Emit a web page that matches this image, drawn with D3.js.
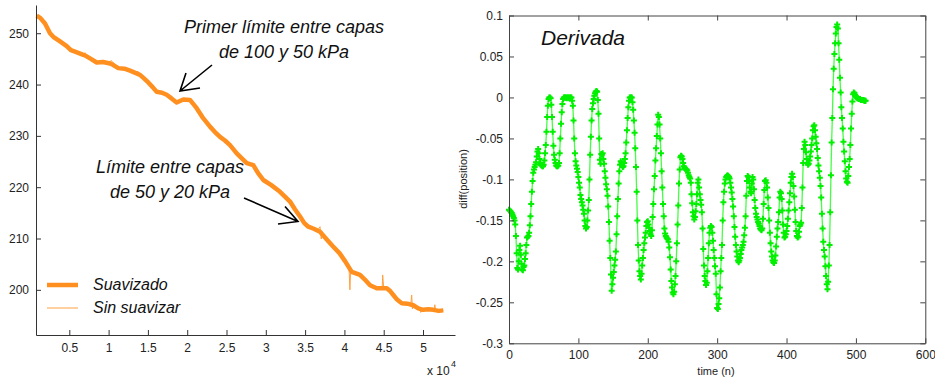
<!DOCTYPE html>
<html>
<head>
<meta charset="utf-8">
<script src="https://cdn.jsdelivr.net/npm/d3@7"></script>
<style>
    body { margin: 0; background: #fff; }
    svg { font-family: "Liberation Sans", Arial, sans-serif; }
</style>
</head>
<body>
<svg id="chart" width="935" height="378"></svg>
<script>
// ---- left plot data (position vs sample) ----
var smoothX = [852, 1300, 1908, 2545, 2965, 3817, 4669, 5200, 5725, 6781, 7200, 7634, 8486, 9300, 10178, 10600, 11234, 12000,
    12723, 13995, 14500, 15047, 15600, 16116, 16800, 17388, 18000, 18660, 19500, 20352, 21204, 22052, 22900, 23500, 24170,
    24800, 25446, 26300, 27572, 28410, 29000, 29683, 30700, 31808, 32400, 33080, 33700, 34352, 34900, 35408, 36100, 36896,
    37700, 38588, 39400, 40080, 40932, 41988, 42600, 43260, 44112, 45384, 45800, 46220, 46700, 47288, 48000, 48765, 49400,
    50037, 50700, 51310, 52000, 52582];
var smoothY = [253.4, 253.0, 251.9, 250.0, 249.3, 248.4, 247.5, 246.7, 246.4, 245.8, 245.5, 245.1, 244.3, 244.4, 244.1, 243.8, 243.2, 243.1,
    242.7, 241.9, 241.2, 240.4, 239.5, 238.6, 238.4, 238.0, 237.3, 236.5, 237.1, 237.0, 235.4, 233.4, 231.8, 230.8, 229.8,
    229.1, 228.2, 226.6, 224.7, 224.3, 222.8, 221.4, 220.4, 219.1, 218.2, 217.2, 215.7, 214.3, 213.0, 212.3, 211.9, 211.3,
    209.9, 208.4, 207.1, 205.6, 203.5, 202.9, 202.0, 200.9, 200.3, 200.3, 199.8, 199.0, 198.1, 197.4, 197.3, 197.0, 196.4,
    196.1, 196.2, 196.1, 195.9, 196.0];

var rawX = [852, 1500, 1908, 2545, 3000, 3817, 4669, 5200, 5725, 6781, 7000, 7200, 7634, 8486, 9300, 10178, 10300, 11234,
    12723, 13500, 13700, 13995, 15047, 16116, 17388, 18660, 19500, 20352, 21204, 22052, 22900, 24170, 25446, 26300, 27572,
    28410, 29683, 31808, 33080, 34352, 35408, 36600, 36896, 37050, 37200, 38588, 40080, 40600, 40700, 40800, 40932, 41988,
    43260, 44112, 44800, 44870, 45000, 45384, 46220, 47288, 48450, 48560, 48650, 48765, 49600, 49700, 50037, 51310, 51450,
    51500, 51600, 52582];
var rawY = [253.6, 252.8, 251.9, 250.1, 249.2, 248.5, 247.4, 246.9, 246.3, 245.7, 246.2, 245.4, 245.0, 244.4, 244.2, 244.1, 244.7, 243.3,
    242.6, 242.0, 242.6, 241.9, 240.5, 238.7, 237.9, 236.6, 237.2, 236.9, 235.5, 233.3, 231.9, 229.7, 228.3, 226.5, 224.8,
    224.2, 221.5, 219.0, 217.3, 214.2, 212.4, 211.6, 212.3, 209.9, 211.2, 208.5, 205.6, 203.9, 200.0, 204.3, 203.4, 203.0,
    200.8, 200.4, 200.2, 202.9, 200.4, 200.2, 199.1, 197.3, 197.2, 199.0, 196.3, 197.1, 196.2, 195.6, 196.2, 196.1, 196.2,
    197.1, 196.0, 196.0];

var leftXTicks = [5000, 10000, 15000, 20000, 25000, 30000, 35000, 40000, 45000, 50000];
var leftXLabels = ["0.5", "1", "1.5", "2", "2.5", "3", "3.5", "4", "4.5", "5"];
var leftYTicks = [200, 210, 220, 230, 240, 250];

// ---- right plot data (derivative, one value per sample n = 0..514) ----
var derivValues = [
    -0.137, -0.138, -0.139, -0.140, -0.141, -0.143, -0.145, -0.147, -0.150, -0.155,
    -0.169, -0.190, -0.208, -0.210, -0.200, -0.186, -0.181, -0.192, -0.203, -0.210,
    -0.211, -0.207, -0.205, -0.197, -0.190, -0.180, -0.171, -0.170, -0.169, -0.165,
    -0.156, -0.145, -0.130, -0.115, -0.102, -0.092, -0.088, -0.085, -0.082, -0.079,
    -0.072, -0.066, -0.063, -0.068, -0.075, -0.080, -0.082, -0.083, -0.084, -0.084,
    -0.082, -0.077, -0.068, -0.058, -0.042, -0.024, -0.010, -0.002, 0.000, 0.000,
    -0.001, -0.009, -0.024, -0.042, -0.059, -0.070, -0.076, -0.080, -0.083, -0.084,
    -0.084, -0.083, -0.080, -0.068, -0.050, -0.032, -0.018, -0.008, -0.002, 0.000,
    0.000, 0.000, 0.000, -0.001, 0.000, 0.000, 0.000, -0.001, 0.000, 0.000,
    0.000, -0.004, -0.010, -0.028, -0.050, -0.068, -0.078, -0.083, -0.087, -0.091,
    -0.097, -0.104, -0.110, -0.119, -0.124, -0.128, -0.132, -0.137, -0.142, -0.150,
    -0.157, -0.160, -0.158, -0.150, -0.138, -0.125, -0.100, -0.070, -0.048, -0.028,
    -0.014, -0.007, -0.002, 0.002, 0.005, 0.007, 0.008, 0.007, -0.003, -0.020,
    -0.050, -0.076, -0.081, -0.069, -0.070, -0.068, -0.075, -0.081, -0.090, -0.098,
    -0.106, -0.112, -0.120, -0.133, -0.152, -0.175, -0.196, -0.216, -0.236, -0.228,
    -0.220, -0.213, -0.205, -0.198, -0.188, -0.167, -0.145, -0.124, -0.105, -0.090,
    -0.082, -0.078, -0.080, -0.083, -0.085, -0.084, -0.080, -0.075, -0.068, -0.055,
    -0.040, -0.025, -0.012, -0.004, 0.000, 0.000, 0.000, 0.000, -0.006, -0.015,
    -0.028, -0.043, -0.062, -0.085, -0.115, -0.150, -0.180, -0.199, -0.212, -0.218,
    -0.222, -0.215, -0.205, -0.196, -0.186, -0.178, -0.171, -0.165, -0.157, -0.152,
    -0.151, -0.155, -0.159, -0.163, -0.167, -0.169, -0.162, -0.146, -0.130, -0.112,
    -0.096, -0.077, -0.062, -0.047, -0.033, -0.021, -0.024, -0.033, -0.050, -0.068,
    -0.090, -0.110, -0.130, -0.145, -0.160, -0.166, -0.169, -0.171, -0.172, -0.173,
    -0.176, -0.183, -0.195, -0.210, -0.224, -0.232, -0.238, -0.240, -0.237, -0.228,
    -0.218, -0.200, -0.178, -0.155, -0.132, -0.105, -0.088, -0.073, -0.071, -0.072,
    -0.075, -0.080, -0.084, -0.086, -0.087, -0.088, -0.088, -0.089, -0.092, -0.095,
    -0.097, -0.099, -0.104, -0.118, -0.129, -0.140, -0.145, -0.149, -0.146, -0.139,
    -0.130, -0.118, -0.104, -0.100, -0.110, -0.118, -0.125, -0.131, -0.140, -0.160,
    -0.185, -0.205, -0.218, -0.224, -0.229, -0.226, -0.212, -0.196, -0.178, -0.165,
    -0.159, -0.157, -0.158, -0.165, -0.175, -0.186, -0.196, -0.206, -0.215, -0.240,
    -0.257, -0.258, -0.252, -0.245, -0.232, -0.212, -0.196, -0.180, -0.150, -0.128,
    -0.115, -0.105, -0.100, -0.097, -0.096, -0.095, -0.096, -0.097, -0.099, -0.104,
    -0.110, -0.116, -0.124, -0.133, -0.145, -0.158, -0.170, -0.180, -0.188, -0.194,
    -0.199, -0.201, -0.199, -0.196, -0.191, -0.186, -0.183, -0.180, -0.176, -0.168,
    -0.159, -0.145, -0.120, -0.102, -0.096, -0.097, -0.102, -0.110, -0.115, -0.117,
    -0.105, -0.097, -0.100, -0.112, -0.125, -0.135, -0.142, -0.146, -0.149, -0.152,
    -0.154, -0.157, -0.160, -0.161, -0.162, -0.160, -0.148, -0.130, -0.113, -0.102,
    -0.101, -0.104, -0.110, -0.122, -0.135, -0.150, -0.165, -0.178, -0.188, -0.194,
    -0.199, -0.201, -0.202, -0.199, -0.193, -0.182, -0.170, -0.160, -0.152, -0.140,
    -0.122, -0.115, -0.117, -0.124, -0.138, -0.155, -0.165, -0.171, -0.170, -0.167,
    -0.163, -0.157, -0.148, -0.138, -0.128, -0.117, -0.104, -0.097, -0.093, -0.097,
    -0.108, -0.121, -0.137, -0.152, -0.163, -0.169, -0.171, -0.170, -0.164, -0.157,
    -0.155, -0.153, -0.135, -0.110, -0.080, -0.063, -0.054, -0.058, -0.067, -0.075,
    -0.080, -0.082, -0.081, -0.077, -0.072, -0.066, -0.058, -0.050, -0.040, -0.035,
    -0.034, -0.040, -0.048, -0.056, -0.063, -0.074, -0.083, -0.090, -0.098, -0.108,
    -0.122, -0.142, -0.160, -0.176, -0.186, -0.194, -0.206, -0.218, -0.228, -0.234,
    -0.225, -0.205, -0.180, -0.140, -0.095, -0.055, -0.025, 0.010, 0.035, 0.053,
    0.066, 0.078, 0.086, 0.089, 0.084, 0.066, 0.046, 0.024, 0.006, -0.012,
    -0.025, -0.038, -0.054, -0.066, -0.078, -0.090, -0.099, -0.103, -0.104, -0.096,
    -0.085, -0.075, -0.058, -0.038, -0.020, -0.005, 0.004, 0.006, 0.005, 0.003,
    0.001, 0.000, -0.001, -0.001, -0.002, -0.002, -0.002, -0.003, -0.003, -0.003,
    -0.003, -0.003, -0.004, -0.004, -0.004
];
var rightXTicks = [0, 100, 200, 300, 400, 500, 600];
var rightYTicks = [0.1, 0.05, 0, -0.05, -0.1, -0.15, -0.2, -0.25, -0.3];
var rightYLabels = ["0.1", "0.05", "0", "-0.05", "-0.1", "-0.15", "-0.2", "-0.25", "-0.3"];

var svg = d3.select("#chart");
var axisColor = "#333";
var orange = "#ff9020";

// ================= LEFT PLOT =================
var xL = d3.scaleLinear().domain([763, 54070]).range([36, 455]);
var yL = d3.scaleLinear().domain([191.2, 255.5]).range([335, 5]);

var left = svg.append("g");

// unsmoothed thin line first, then the thick smoothed one on top
var posLine = d3.line().x(d => xL(d[0])).y(d => yL(d[1]));
left.append("path")
    .datum(d3.zip(rawX, rawY))
    .attr("d", posLine)
    .attr("fill", "none")
    .attr("stroke", "#ffa040")
    .attr("stroke-width", 1);

left.append("path")
    .datum(d3.zip(smoothX, smoothY))
    .attr("d", posLine)
    .attr("fill", "none")
    .attr("stroke", orange)
    .attr("stroke-width", 4.5)
    .attr("stroke-linejoin", "round");

// axes with inward ticks (matlab look)
var xAxisL = d3.axisBottom(xL).tickValues(leftXTicks)
    .tickFormat((d, i) => leftXLabels[i])
    .tickSizeInner(-5).tickSizeOuter(0).tickPadding(8);
var yAxisL = d3.axisLeft(yL).tickValues(leftYTicks)
    .tickSizeInner(-5).tickSizeOuter(0).tickPadding(7);

left.append("g")
    .attr("transform", "translate(0,335)")
    .call(xAxisL);
left.append("g")
    .attr("transform", "translate(36,0)")
    .call(yAxisL);

left.selectAll(".domain, .tick line").attr("stroke", axisColor);
left.selectAll(".tick text").attr("fill", "#222").style("font-size", "12px");

// x 10^4 multiplier
left.append("text").attr("x", 427).attr("y", 375)
    .attr("fill", "#222").style("font-size", "12px").text("x 10");
left.append("text").attr("x", 451).attr("y", 367)
    .attr("fill", "#222").style("font-size", "9px").text("4");

// annotations
var annot = left.append("g")
    .attr("text-anchor", "middle")
    .style("font-size", "18px")
    .style("font-style", "italic")
    .attr("fill", "#111");
annot.append("text").attr("x", 284).attr("y", 33).text("Primer límite entre capas");
annot.append("text").attr("x", 284).attr("y", 58).text("de 100 y 50 kPa");
annot.append("text").attr("x", 170).attr("y", 173).text("Límite entre capas");
annot.append("text").attr("x", 170).attr("y", 198).text("de 50 y 20 kPa");

// arrows
var arrows = left.append("g").attr("stroke", "#000").attr("stroke-width", 1.6).attr("fill", "none");
arrows.append("path").attr("d", "M212,65 L180,91 M186,73 L180,91 L200,88");
arrows.append("path").attr("d", "M244,198 L298,221.5 M285,206.5 L298,221.5 L278,224");

// legend
var legendItems = [
    { label: "Suavizado", width: 4.5, color: orange, y: 285 },
    { label: "Sin suavizar", width: 1, color: "#ffa040", y: 308 }
];
var legend = left.selectAll(".legend")
    .data(legendItems)
    .enter().append("g")
    .attr("class", "legend")
    .attr("transform", d => "translate(0," + d.y + ")");
legend.append("line")
    .attr("x1", 47).attr("x2", 78)
    .attr("stroke", d => d.color)
    .attr("stroke-width", d => d.width);
legend.append("text")
    .attr("x", 93).attr("y", 5)
    .style("font-size", "16px")
    .style("font-style", "italic")
    .attr("fill", "#111")
    .text(d => d.label);

// ================= RIGHT PLOT =================
var xR = d3.scaleLinear().domain([0, 600]).range([509, 925.3]);
var yR = d3.scaleLinear().domain([-0.3, 0.1]).range([343.3, 15.5]);

var right = svg.append("g");

var derivLine = d3.line().x((d, i) => xR(i)).y(d => yR(d));
right.append("path")
    .datum(derivValues)
    .attr("d", derivLine)
    .attr("fill", "none")
    .attr("stroke", "#44ff44")
    .attr("stroke-width", 1.3);

// '+' markers
right.append("g")
    .selectAll("path")
    .data(derivValues)
    .enter().append("path")
    .attr("transform", (d, i) => "translate(" + xR(i) + "," + yR(d) + ")")
    .attr("d", "M-3,0H3M0,-3V3")
    .attr("stroke", "#00f000")
    .attr("stroke-width", 2);

// box with inward ticks on all sides
var xAxisR = d3.axisBottom(xR).tickValues(rightXTicks).tickFormat(d3.format("d"))
    .tickSizeInner(-5).tickSizeOuter(0).tickPadding(7);
var yAxisR = d3.axisLeft(yR).tickValues(rightYTicks)
    .tickFormat((d, i) => rightYLabels[i])
    .tickSizeInner(-5).tickSizeOuter(0).tickPadding(6);
var xAxisTop = d3.axisTop(xR).tickValues(rightXTicks).tickFormat("")
    .tickSizeInner(-5).tickSizeOuter(0);
var yAxisRight = d3.axisRight(yR).tickValues(rightYTicks).tickFormat("")
    .tickSizeInner(-5).tickSizeOuter(0);

right.append("g").attr("transform", "translate(0,343.3)").call(xAxisR);
right.append("g").attr("transform", "translate(509,0)").call(yAxisR);
right.append("g").attr("transform", "translate(0,15.5)").call(xAxisTop);
right.append("g").attr("transform", "translate(925.3,0)").call(yAxisRight);

right.selectAll(".domain, .tick line").attr("stroke", "#444");
right.selectAll(".tick text").attr("fill", "#222").style("font-size", "12px");

// axis labels
right.append("text")
    .attr("text-anchor", "middle")
    .attr("x", 716).attr("y", 375)
    .attr("fill", "#222")
    .style("font-size", "11px")
    .text("time (n)");
right.append("text")
    .attr("text-anchor", "middle")
    .attr("transform", "rotate(-90)")
    .attr("x", -179).attr("y", 467)
    .attr("fill", "#222")
    .style("font-size", "11px")
    .text("diff(position)");

// title inside plot
right.append("text")
    .attr("x", 541).attr("y", 45)
    .style("font-size", "21px")
    .style("font-style", "italic")
    .attr("fill", "#111")
    .text("Derivada");
</script>
</body>
</html>
